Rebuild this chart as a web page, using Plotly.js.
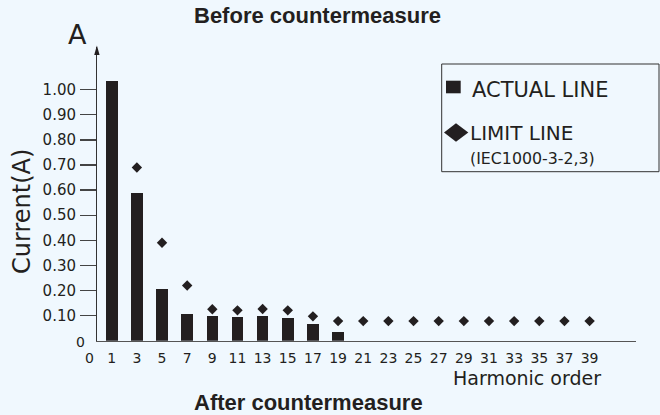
<!DOCTYPE html>
<html>
<head>
<meta charset="utf-8">
<script src="https://cdn.plot.ly/plotly-3.0.1.min.js"></script>
<style>html,body{margin:0;padding:0;background:#f0f8fe;}#chart{width:660px;height:415px;}</style>
</head>
<body>
<div id="chart"></div>
<script>
// ---- data ----
var harmonics = [1,3,5,7,9,11,13,15,17,19,21,23,25,27,29,31,33,35,37,39];
var harmonicLabels = ['1','3','5','7','9','11','13','15','17','19','21','23','25','27','29','31','33','35','37','39'];
var actualHarmonics = [1,3,5,7,9,11,13,15,17,19];
var actualCurrent = [1.035,0.59,0.206,0.105,0.098,0.093,0.098,0.092,0.065,0.036];
var limitHarmonics = [3,5,7,9,11,13,15,17,19,21,23,25,27,29,31,33,35,37,39];
var limitCurrent = [0.69,0.39,0.22,0.125,0.121,0.126,0.121,0.097,0.078,0.078,0.078,0.078,0.078,0.078,0.078,0.078,0.078,0.078,0.078];
var yTickVals = [0.1,0.2,0.3,0.4,0.5,0.6,0.7,0.8,0.9,1.0];
var yTickText = ['0.10','0.20','0.30','0.40','0.50','0.60','0.70','0.80','0.90','1.00'];
var titleTop = 'Before countermeasure';
var titleBottom = 'After countermeasure';
var legendActual = 'ACTUAL LINE';
var legendLimit = 'LIMIT LINE';
var legendLimitNote = '(IEC1000-3-2,3)';

// ---- helpers (pixel -> paper) ----
var W = 660, H = 415;
function px(x){ return x / W; }
function py(y){ return 1 - y / H; }
var ink = '#231f20';
var bg = '#f0f8fe';
var sans = '"DejaVu Sans", Arial, sans-serif';
var boldFont = '"Liberation Sans Narrow", "Liberation Sans", Arial, sans-serif';

var traces = [
  {type:'bar', x: actualHarmonics, y: actualCurrent, width: 0.92,
   marker:{color: ink, line:{width:0}}, showlegend:false, hoverinfo:'x+y'},
  {type:'scatter', mode:'markers', x: limitHarmonics, y: limitCurrent,
   marker:{symbol:'diamond', size:8, color: ink}, showlegend:false, hoverinfo:'x+y'}
];

function ann(text, x, y, size, opts){
  var a = {text:text, x:px(x), y:py(y), xref:'paper', yref:'paper', showarrow:false,
    xanchor:'center', yanchor:'middle', borderpad:0, font:{family:sans, size:size, color:ink}};
  for (var k in (opts||{})) a[k] = opts[k];
  return a;
}

var layout = {
  width: W, height: H,
  margin:{l:0,r:0,t:0,b:0,pad:0},
  paper_bgcolor: bg, plot_bgcolor: bg,
  showlegend:false,
  bargap:0,
  xaxis:{
    domain:[px(97), px(636)], range:[-0.17, 42.69],
    tickmode:'array', tickvals: harmonics, ticktext: harmonicLabels,
    ticks:'', showline:true, linecolor:'#555', linewidth:1.5,
    showgrid:false, zeroline:false, fixedrange:true,
    tickfont:{family:sans, size:14, color:ink}, ticklabelstandoff:4
  },
  yaxis:{
    domain:[py(340.7), py(47)], range:[0, 1.17],
    tickmode:'array', tickvals: yTickVals, ticktext: yTickText,
    ticks:'outside', ticklen:16, tickwidth:1.3, tickcolor:'#444',
    showline:true, linecolor:'#333', linewidth:1,
    showgrid:false, zeroline:false, fixedrange:true,
    tickfont:{family:sans, size:15, color:ink}, ticklabelstandoff:1
  },
  shapes:[
    // y-axis arrow head
    {type:'path', xref:'paper', yref:'paper',
     path:'M '+px(96.9)+' '+py(45.5)+' L '+px(94.2)+' '+py(55)+' L '+px(99.6)+' '+py(55)+' Z',
     fillcolor:ink, line:{width:0}},
    // legend box
    {type:'rect', xref:'paper', yref:'paper', x0:px(441.7), x1:px(659), y0:py(64), y1:py(171.7),
     line:{color:'#333', width:1}, fillcolor:'rgba(0,0,0,0)'},
    // legend square
    {type:'rect', xref:'paper', yref:'paper', x0:px(446), x1:px(460.7), y0:py(80.7), y1:py(93.3),
     fillcolor:ink, line:{width:0}},
    // legend diamond
    {type:'path', xref:'paper', yref:'paper',
     path:'M '+px(444)+' '+py(132.5)+' L '+px(456)+' '+py(123.3)+' L '+px(468.3)+' '+py(132.5)+' L '+px(456)+' '+py(141.7)+' Z',
     fillcolor:ink, line:{width:0}}
  ],
  annotations:[
    ann('<b>'+titleTop+'</b>', 317.5, 16, 22, {font:{family:boldFont, size:22, color:ink}}),
    ann('<b>'+titleBottom+'</b>', 308, 402, 22, {font:{family:boldFont, size:22, color:ink}}),
    ann('A', 77, 35, 27),
    ann('Current(A)', 22.5, 211.5, 24, {textangle:-90}),
    ann('Harmonic order', 527, 377.7, 19),
    ann('0', 80.7, 341.7, 14),
    ann('0', 89.3, 358.3, 14),
    ann(legendActual, 471, 90, 21, {xanchor:'left'}),
    ann(legendLimit, 468.5, 132.7, 20, {xanchor:'left'}),
    ann(legendLimitNote, 469, 158, 15.8, {xanchor:'left'})
  ]
};

Plotly.newPlot('chart', traces, layout, {staticPlot:true, displayModeBar:false});
</script>
</body>
</html>
